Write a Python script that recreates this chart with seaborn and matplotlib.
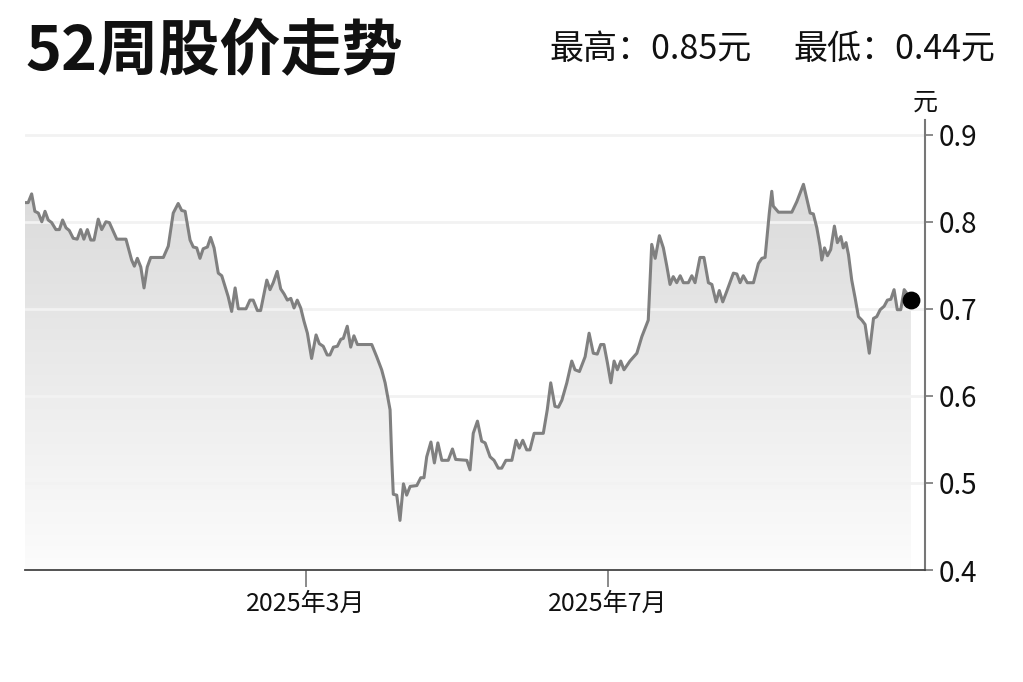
import numpy as np
import pandas as pd
import matplotlib
matplotlib.use("Agg")
import matplotlib.pyplot as plt
import matplotlib.dates as mdates
from matplotlib.colors import LinearSegmentedColormap
import seaborn as sns

# ---------------- data ----------------
start_date = "2024-11-07 12:00"
day_offsets = [
    0.0, 1.3, 2.7, 4.0, 5.4, 6.8, 8.1, 9.4, 10.8, 12.5, 13.9, 15.2, 16.6, 17.9, 19.5, 21.1,
    22.5, 23.8, 25.2, 26.6, 27.9, 29.6, 31.0, 32.7, 34.1, 37.1, 40.8, 43.1, 44.2, 45.4, 46.8,
    48.1, 49.4, 50.8, 55.9, 57.9, 59.9, 61.9, 63.3, 64.7, 66.7, 68.0, 69.4, 70.7, 72.0, 73.7,
    75.0, 76.4, 78.1, 79.5, 80.8, 82.1, 83.5, 84.9, 86.2, 89.3, 90.9, 92.2, 93.9, 95.2, 97.7,
    99.0, 100.3, 101.9, 103.3, 104.7, 106.0, 107.4, 108.7, 110.0, 111.4, 112.7, 114.1, 115.8,
    117.6, 118.9, 120.5, 122.1, 123.2, 124.6, 126.2, 127.6, 128.6, 130.2, 131.6, 132.9, 134.3,
    140.1, 142.1, 144.1, 145.5, 146.8, 147.5, 148.2, 148.8, 150.2, 151.5, 152.9, 154.2, 155.6,
    158.3, 159.9, 161.2, 162.3, 164.0, 165.4, 166.8, 168.4, 171.0, 172.7, 174.0, 178.5, 179.8,
    181.1, 182.8, 184.5, 185.9, 187.9, 189.5, 191.2, 192.6, 194.3, 196.7, 198.4, 199.7, 201.1,
    202.7, 204.0, 205.7, 209.4, 211.0, 212.4, 214.1, 215.5, 216.9, 218.9, 220.9, 222.2, 224.0,
    226.3, 227.9, 229.6, 231.2, 232.6, 233.9, 235.3, 236.7, 238.0, 239.3, 240.7, 242.0, 244.4,
    247.2, 249.2, 251.8, 253.2, 254.6, 256.3, 257.9, 259.3, 260.6, 261.9, 263.3, 264.7, 266.0,
    268.0, 269.4, 270.7, 272.7, 274.3, 276.1, 277.5, 279.2, 280.5, 281.9, 283.5, 286.2, 287.6,
    288.9, 290.2, 291.8, 294.3, 296.3, 297.7, 299.0, 300.7, 301.7, 302.3, 304.4, 309.8, 311.8,
    314.5, 315.8, 317.2, 318.5, 319.9, 321.2, 321.9, 323.0, 324.2, 325.5, 327.0, 328.2, 329.6,
    330.6, 331.7, 332.7, 334.0, 335.4, 336.7, 338.1, 339.4, 341.1, 342.8, 344.1, 345.5, 347.1,
    348.4, 349.8, 351.1, 352.4, 353.8, 355.2, 356.2, 357.9,
]
prices = [
    0.822, 0.822, 0.832, 0.812, 0.810, 0.800, 0.812, 0.802, 0.799, 0.791, 0.791, 0.802, 0.793, 0.790, 0.781, 0.780,
    0.791, 0.780, 0.791, 0.779, 0.779, 0.803, 0.791, 0.800, 0.799, 0.780, 0.780, 0.756, 0.749, 0.758, 0.748,
    0.724, 0.748, 0.759, 0.759, 0.772, 0.810, 0.821, 0.813, 0.812, 0.779, 0.771, 0.770, 0.758, 0.769, 0.771,
    0.782, 0.770, 0.741, 0.738, 0.726, 0.714, 0.697, 0.724, 0.700, 0.700, 0.710, 0.710, 0.698, 0.698, 0.733,
    0.722, 0.730, 0.743, 0.723, 0.717, 0.710, 0.712, 0.701, 0.710, 0.701, 0.686, 0.672, 0.643,
    0.670, 0.660, 0.657, 0.647, 0.647, 0.656, 0.657, 0.665, 0.666, 0.680, 0.656, 0.669, 0.659,
    0.659, 0.645, 0.630, 0.615, 0.595, 0.584, 0.526, 0.487, 0.486, 0.457, 0.499, 0.486, 0.496,
    0.497, 0.506, 0.506, 0.530, 0.547, 0.523, 0.546, 0.526, 0.526, 0.539, 0.527, 0.526, 0.515,
    0.557, 0.571, 0.548, 0.546, 0.530, 0.526, 0.517, 0.517, 0.526, 0.526, 0.549, 0.540, 0.549,
    0.538, 0.538, 0.557, 0.557, 0.584, 0.615, 0.588, 0.587, 0.595, 0.615, 0.640, 0.630, 0.628,
    0.645, 0.672, 0.649, 0.648, 0.659, 0.659, 0.638, 0.615, 0.640, 0.630, 0.640, 0.630, 0.640,
    0.649, 0.668, 0.687, 0.774, 0.758, 0.784, 0.770, 0.749, 0.728, 0.737, 0.730, 0.738, 0.730,
    0.730, 0.738, 0.730, 0.759, 0.759, 0.730, 0.728, 0.708, 0.721, 0.708, 0.720, 0.741, 0.740,
    0.730, 0.738, 0.730, 0.730, 0.752, 0.758, 0.759, 0.810, 0.835, 0.818, 0.811, 0.811, 0.823,
    0.843, 0.827, 0.810, 0.809, 0.793, 0.772, 0.756, 0.770, 0.761, 0.768, 0.795, 0.776, 0.783,
    0.770, 0.776, 0.762, 0.733, 0.712, 0.691, 0.687, 0.682, 0.649, 0.689, 0.691, 0.699, 0.703,
    0.710, 0.711, 0.722, 0.699, 0.699, 0.722, 0.718, 0.710,
]
title_text = "52周股价走势"
high_text = "最高：0.85元"
low_text = "最低：0.44元"
unit_text = "元"
x_tick_dates = ["2025-03-01", "2025-07-01"]
x_tick_labels = ["2025年3月", "2025年7月"]
y_ticks = [0.4, 0.5, 0.6, 0.7, 0.8, 0.9]

# ---------------- style ----------------
sns.set_theme(style="white")
plt.rcParams["font.family"] = ["Noto Sans CJK SC", "DejaVu Sans"]

dates = pd.Timestamp(start_date) + pd.to_timedelta(day_offsets, unit="D")
df = pd.DataFrame({"date": dates, "price": prices})

fig = plt.figure(figsize=(10.23, 6.82), dpi=100)
ax = fig.add_axes([0.0244, 0.1642, 0.8798, 0.66])

x0 = mdates.date2num(pd.Timestamp(start_date))
xmax = x0 + 363.6
ymin, ymax = 0.4, 0.917

# gradient fill under the line
xnum = mdates.date2num(df["date"])
poly = ax.fill_between(xnum, df["price"], ymin, facecolor="none", edgecolor="none")
cmap = LinearSegmentedColormap.from_list("g", ["#fcfcfc", "#d6d6d6"])
grad = np.linspace(0, 1, 256).reshape(-1, 1)
im = ax.imshow(grad, extent=[x0, xmax, 0.4, 0.9], origin="lower", aspect="auto",
               cmap=cmap, zorder=1)
im.set_clip_path(poly.get_paths()[0], transform=ax.transData)

# faint gridlines
for yv in y_ticks[1:]:
    ax.axhline(yv, color="#f2f2f2", lw=2.0, zorder=2)

sns.lineplot(data=df, x="date", y="price", ax=ax, color="#808080", lw=2.2, zorder=3)
ax.scatter([df["date"].iloc[-1]], [df["price"].iloc[-1]], s=140, color="black", zorder=4)

ax.set_xlim(x0, xmax)
ax.set_ylim(ymin, ymax)
ax.set_xlabel("")
ax.set_ylabel("")

for s in ["top", "left"]:
    ax.spines[s].set_visible(False)
ax.spines["bottom"].set_color("#444444")
ax.spines["bottom"].set_linewidth(1.3)
ax.spines["right"].set_color("#777777")
ax.spines["right"].set_linewidth(1.5)

ax.yaxis.tick_right()
ax.set_yticks(y_ticks)
ax.set_yticklabels([f"{v:.1f}" for v in y_ticks])
ax.tick_params(axis="y", which="major", right=True, length=6, width=1.2, color="#777777",
               labelsize=20, pad=4, labelcolor="#111111")
ax.set_xticks([mdates.date2num(pd.Timestamp(d)) for d in x_tick_dates])
ax.set_xticklabels(x_tick_labels)
ax.tick_params(axis="x", which="major", bottom=True, length=12, width=1.2, color="#777777",
               labelsize=18, pad=3, labelcolor="#111111")

fig.text(25 / 1023, 1 - 52 / 682, title_text, fontsize=44, fontweight="bold",
         ha="left", va="center", color="#111111")
fig.text(752 / 1023, 1 - 49 / 682, high_text, fontsize=24.5, ha="right", va="center", color="#111111")
fig.text(995 / 1023, 1 - 49 / 682, low_text, fontsize=24.5, ha="right", va="center", color="#111111")
fig.text(925 / 1023, 1 - 103 / 682, unit_text, fontsize=18, ha="center", va="center", color="#111111")

fig.savefig("out.png", dpi=100, facecolor="white")
